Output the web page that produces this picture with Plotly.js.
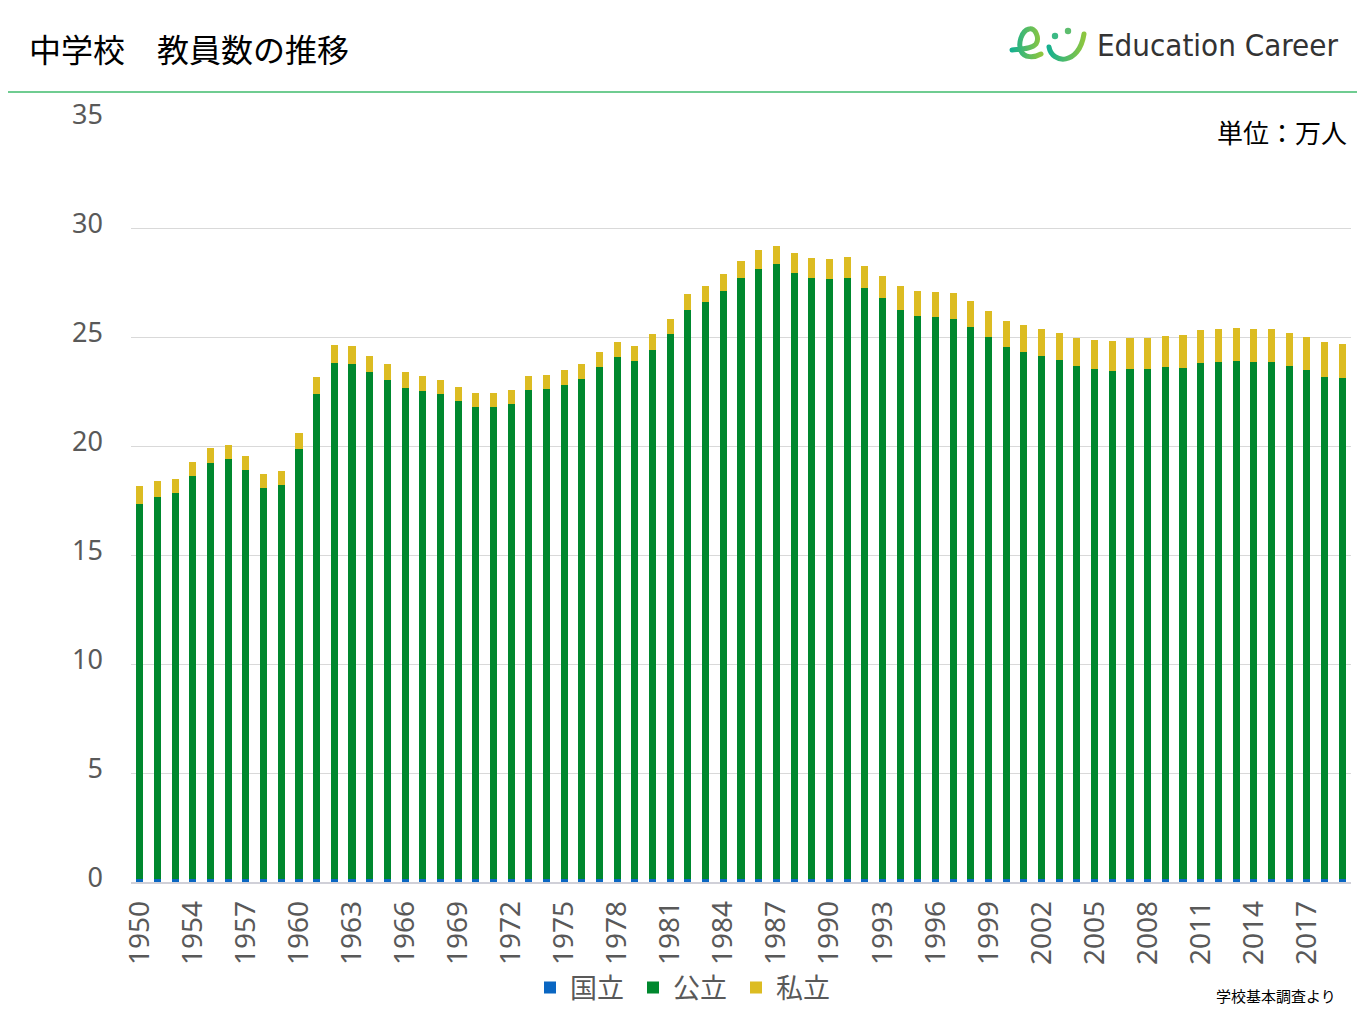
<!DOCTYPE html>
<html>
<head>
<meta charset="utf-8">
<script src="https://cdn.plot.ly/plotly-3.0.1.min.js"></script>
<style>
  html, body { margin: 0; padding: 0; background: #fff; }
  #chart { width: 1365px; height: 1024px; }
</style>
</head>
<body>
<div id="chart"></div>
<script>
// years in the survey (1951 not shown in the source chart)
const years = [
  1950, 1952, 1953, 1954, 1955, 1956, 1957, 1958, 1959, 1960,
  1961, 1962, 1963, 1964, 1965, 1966, 1967, 1968, 1969, 1970,
  1971, 1972, 1973, 1974, 1975, 1976, 1977, 1978, 1979, 1980,
  1981, 1982, 1983, 1984, 1985, 1986, 1987, 1988, 1989, 1990,
  1991, 1992, 1993, 1994, 1995, 1996, 1997, 1998, 1999, 2000,
  2001, 2002, 2003, 2004, 2005, 2006, 2007, 2008, 2009, 2010,
  2011, 2012, 2013, 2014, 2015, 2016, 2017, 2018, 2019
];

// 万人
const national = [
  0.12, 0.12, 0.12, 0.12, 0.12, 0.12, 0.12, 0.12, 0.12, 0.12,
  0.12, 0.12, 0.12, 0.12, 0.12, 0.12, 0.12, 0.12, 0.12, 0.12,
  0.12, 0.12, 0.12, 0.12, 0.12, 0.12, 0.12, 0.12, 0.12, 0.12,
  0.12, 0.12, 0.12, 0.12, 0.12, 0.12, 0.12, 0.12, 0.12, 0.12,
  0.12, 0.12, 0.12, 0.12, 0.12, 0.12, 0.12, 0.12, 0.12, 0.12,
  0.12, 0.12, 0.12, 0.12, 0.12, 0.12, 0.12, 0.12, 0.12, 0.12,
  0.12, 0.12, 0.12, 0.12, 0.12, 0.12, 0.12, 0.12, 0.12
];

const publicSchools = [
  17.23, 17.56, 17.74, 18.52, 19.11, 19.30, 18.79, 17.97, 18.11, 19.76,
  22.28, 23.70, 23.66, 23.29, 22.92, 22.55, 22.42, 22.28, 21.94, 21.66,
  21.66, 21.81, 22.46, 22.51, 22.69, 22.97, 23.52, 23.98, 23.80, 24.30,
  25.03, 26.14, 26.50, 27.01, 27.60, 28.01, 28.24, 27.83, 27.60, 27.56,
  27.60, 27.14, 26.67, 26.14, 25.86, 25.82, 25.72, 25.35, 24.89, 24.44,
  24.21, 24.02, 23.84, 23.56, 23.43, 23.33, 23.43, 23.43, 23.52, 23.47,
  23.70, 23.75, 23.80, 23.75, 23.75, 23.56, 23.38, 23.06, 23.01
];

const privateSchools = [
  0.83, 0.73, 0.64, 0.64, 0.69, 0.64, 0.64, 0.64, 0.64, 0.73,
  0.78, 0.83, 0.83, 0.74, 0.74, 0.74, 0.69, 0.64, 0.64, 0.65,
  0.65, 0.64, 0.65, 0.64, 0.69, 0.69, 0.69, 0.69, 0.69, 0.73,
  0.69, 0.73, 0.73, 0.77, 0.78, 0.87, 0.83, 0.92, 0.92, 0.91,
  0.96, 1.01, 1.02, 1.09, 1.15, 1.14, 1.20, 1.20, 1.20, 1.19,
  1.24, 1.24, 1.24, 1.29, 1.33, 1.38, 1.42, 1.42, 1.42, 1.52,
  1.52, 1.51, 1.51, 1.51, 1.51, 1.52, 1.52, 1.57, 1.57
];

const tickYears = [
  1950, 1954, 1957, 1960, 1963, 1966, 1969, 1972, 1975, 1978, 1981,
  1984, 1987, 1990, 1993, 1996, 1999, 2002, 2005, 2008, 2011, 2014, 2017
];

const seriesNames = ['国立', '公立', '私立'];
const seriesColors = ['#0a66c2', '#00882e', '#dcbc22'];

const cats = years.map(String);
const jp = '"Noto Sans CJK JP", "Noto Sans", sans-serif';
const num = '"Noto Sans", "Open Sans", sans-serif';

const traces = [national, publicSchools, privateSchools].map((vals, i) => ({
  type: 'bar',
  name: seriesNames[i],
  x: cats,
  y: vals,
  marker: { color: seriesColors[i], line: { width: 0 } },
  hoverinfo: 'x+y+name'
}));

const logoSvg =
  '<svg xmlns="http://www.w3.org/2000/svg" viewBox="0 0 85 46" width="85" height="46">' +
  '<defs><linearGradient id="g" x1="0" y1="0" x2="1" y2="0">' +
  '<stop offset="0" stop-color="#17b08f"/><stop offset="1" stop-color="#8dc63f"/></linearGradient></defs>' +
  '<g fill="none" stroke="url(#g)" stroke-width="5" stroke-linecap="round">' +
  '<path d="M7,30 C16,29 27,29 31,24 C35,18 30,7 24,9 C16,11 13,24 16,31 C19,38 29,38 36,34"/>' +
  '<path d="M44,27 C47,44 74,46 79,14"/>' +
  '</g>' +
  '<circle cx="50" cy="16" r="3.2" fill="#3cb985"/>' +
  '<circle cx="63" cy="11" r="3.2" fill="#5dbd6e"/>' +
  '</svg>';

const L = 131, R = 14, T = 119, B = 142;
const pw = 1365 - L - R, ph = 1024 - T - B;
const px = v => (v - L) / pw;
const py = v => (1024 - B - v) / ph;

const layout = {
  width: 1365,
  height: 1024,
  margin: { l: L, r: R, t: T, b: B },
  paper_bgcolor: '#fff',
  plot_bgcolor: '#fff',
  barmode: 'stack',
  bargap: 0.6,
  font: { family: num, color: '#595959' },
  xaxis: {
    type: 'category',
    range: [-0.5, years.length - 0.5],
    tickmode: 'array',
    tickvals: tickYears.map(String),
    ticktext: tickYears.map(String),
    tickangle: -90,
    tickfont: { size: 28, color: '#595959', family: num },
    ticks: '',
    ticklabelstandoff: 6,
    showgrid: false,
    showline: true,
    linecolor: '#d0d0d8',
    linewidth: 1.5,
    fixedrange: true
  },
  yaxis: {
    range: [0, 35],
    tickvals: [0, 5, 10, 15, 20, 25, 30, 35],
    tickfont: { size: 27, color: '#595959', family: num },
    ticks: '',
    ticklabelstandoff: 27,
    ticklabelshift: -4,
    showgrid: true,
    gridcolor: '#d9d9d9',
    gridwidth: 1,
    zeroline: false,
    showline: false,
    fixedrange: true
  },
  showlegend: true,
  legend: {
    orientation: 'h',
    x: px(530),
    xanchor: 'left',
    y: py(988),
    yanchor: 'middle',
    font: { size: 27, color: '#595959', family: jp },
    itemwidth: 30,
    entrywidth: 58,
    entrywidthmode: 'pixels',
    traceorder: 'normal',
    bgcolor: 'rgba(0,0,0,0)'
  },
  shapes: [
    {
      type: 'line', xref: 'paper', yref: 'paper',
      x0: px(8), x1: px(1357), y0: py(92), y1: py(92),
      line: { color: '#3fbb6c', width: 1.5 }
    }
  ],
  images: [
    {
      source: 'data:image/svg+xml;charset=utf-8,' + encodeURIComponent(logoSvg),
      xref: 'paper', yref: 'paper',
      x: px(1005), y: py(20),
      sizex: 85 / pw, sizey: 46 / ph,
      xanchor: 'left', yanchor: 'top',
      sizing: 'stretch', layer: 'above'
    }
  ],
  annotations: [
    {
      text: '中学校　教員数の推移',
      xref: 'paper', yref: 'paper',
      x: px(27), y: py(48), xanchor: 'left', yanchor: 'middle',
      showarrow: false,
      font: { size: 32, color: '#000', family: jp }
    },
    {
      text: 'Education Career',
      xref: 'paper', yref: 'paper',
      x: px(1095), y: py(45), xanchor: 'left', yanchor: 'middle',
      showarrow: false,
      font: { size: 31, color: '#333', family: '"Liberation Sans Narrow", "DejaVu Sans Condensed", sans-serif' }
    },
    {
      text: '単位：万人',
      xref: 'paper', yref: 'paper',
      x: px(1349), y: py(132), xanchor: 'right', yanchor: 'middle',
      showarrow: false,
      font: { size: 26, color: '#000', family: jp }
    },
    {
      text: '学校基本調査より',
      xref: 'paper', yref: 'paper',
      x: px(1338), y: py(995), xanchor: 'right', yanchor: 'middle',
      showarrow: false,
      font: { size: 15, color: '#000', family: jp }
    }
  ]
};

Plotly.newPlot('chart', traces, layout, { displayModeBar: false, responsive: false });
</script>
</body>
</html>
